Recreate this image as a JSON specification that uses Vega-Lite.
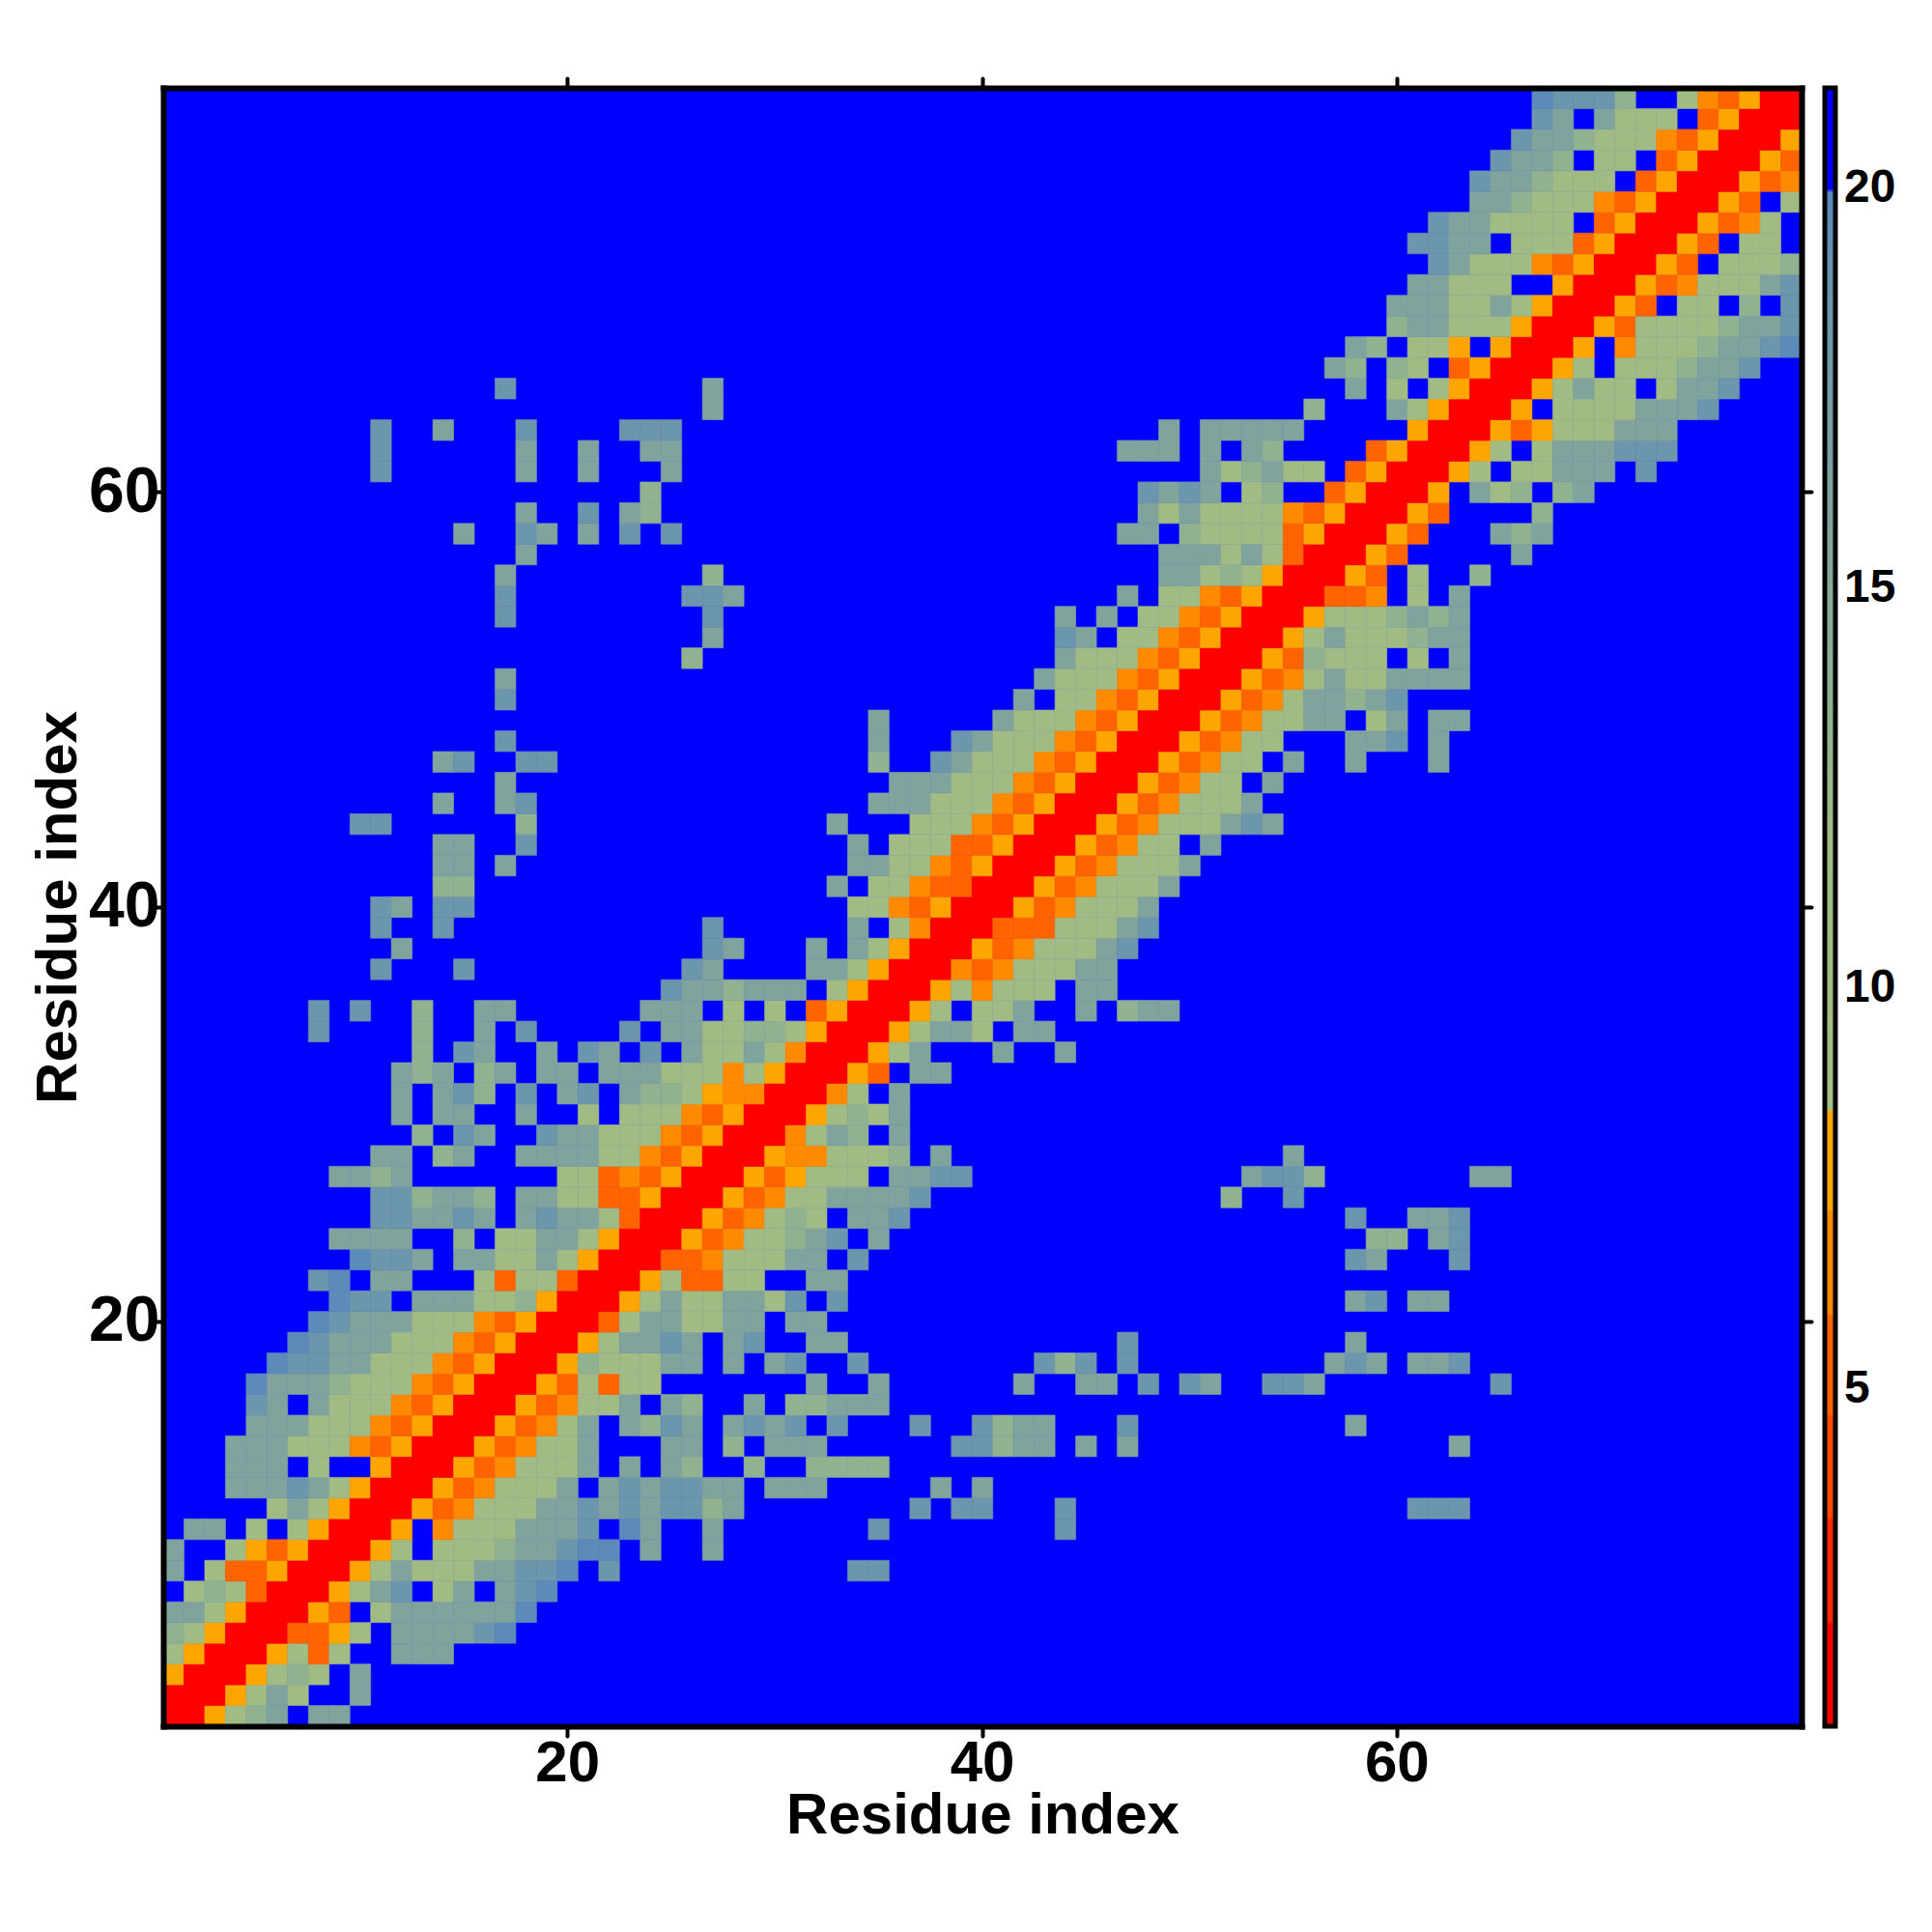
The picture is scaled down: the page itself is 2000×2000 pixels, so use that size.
{"$schema":"https://vega.github.io/schema/vega-lite/v6.json","width":1696,"height":1696,"autosize":"none","padding":{"left":169,"top":91,"right":135,"bottom":213},"background":"white","view":{"fill":"#0000ff","stroke":null},
"config":{"font":"Liberation Sans"},
"datasets":{"cells":[
{"i":1,"j":1,"d":1.5},{"i":2,"j":1,"d":1.5},{"i":3,"j":1,"d":7.9},{"i":4,"j":1,"d":11},{"i":5,"j":1,"d":13.5},{"i":6,"j":1,"d":16},{"i":8,"j":1,"d":16},{"i":9,"j":1,"d":16},
{"i":2,"j":2,"d":1.5},{"i":3,"j":2,"d":1.5},{"i":4,"j":2,"d":7.9},{"i":5,"j":2,"d":11},{"i":6,"j":2,"d":16},{"i":7,"j":2,"d":11},{"i":10,"j":2,"d":16},
{"i":3,"j":3,"d":1.5},{"i":4,"j":3,"d":1.5},{"i":5,"j":3,"d":7.9},{"i":6,"j":3,"d":11},{"i":7,"j":3,"d":13.5},{"i":8,"j":3,"d":11},{"i":10,"j":3,"d":16},
{"i":4,"j":4,"d":1.5},{"i":5,"j":4,"d":1.5},{"i":6,"j":4,"d":7.9},{"i":7,"j":4,"d":11},{"i":8,"j":4,"d":5.3},{"i":9,"j":4,"d":11},{"i":12,"j":4,"d":16},{"i":13,"j":4,"d":16},{"i":14,"j":4,"d":16},
{"i":5,"j":5,"d":1.5},{"i":6,"j":5,"d":1.5},{"i":7,"j":5,"d":5.3},{"i":8,"j":5,"d":5.3},{"i":9,"j":5,"d":7.9},{"i":10,"j":5,"d":11},{"i":12,"j":5,"d":16},{"i":13,"j":5,"d":16},{"i":14,"j":5,"d":16},{"i":15,"j":5,"d":16},{"i":16,"j":5,"d":18.5},{"i":17,"j":5,"d":19.7},
{"i":6,"j":6,"d":1.5},{"i":7,"j":6,"d":1.5},{"i":8,"j":6,"d":7.9},{"i":9,"j":6,"d":5.3},{"i":11,"j":6,"d":11},{"i":12,"j":6,"d":16},{"i":13,"j":6,"d":16},{"i":14,"j":6,"d":16},{"i":15,"j":6,"d":16},{"i":16,"j":6,"d":16},{"i":17,"j":6,"d":16},{"i":18,"j":6,"d":19.7},
{"i":7,"j":7,"d":1.5},{"i":8,"j":7,"d":1.5},{"i":9,"j":7,"d":7.9},{"i":10,"j":7,"d":11},{"i":11,"j":7,"d":16},{"i":12,"j":7,"d":18.5},{"i":14,"j":7,"d":11},{"i":15,"j":7,"d":16},{"i":17,"j":7,"d":16},{"i":18,"j":7,"d":18.5},{"i":19,"j":7,"d":19.7},
{"i":8,"j":8,"d":1.5},{"i":9,"j":8,"d":1.5},{"i":10,"j":8,"d":7.9},{"i":11,"j":8,"d":11},{"i":12,"j":8,"d":16},{"i":13,"j":8,"d":11},{"i":14,"j":8,"d":11},{"i":15,"j":8,"d":11},{"i":16,"j":8,"d":16},{"i":17,"j":8,"d":16},{"i":18,"j":8,"d":18.5},{"i":19,"j":8,"d":18.5},{"i":20,"j":8,"d":19.7},{"i":22,"j":8,"d":18.5},{"i":34,"j":8,"d":18.5},{"i":35,"j":8,"d":18.5},
{"i":9,"j":9,"d":1.5},{"i":10,"j":9,"d":1.5},{"i":11,"j":9,"d":7.9},{"i":12,"j":9,"d":11},{"i":14,"j":9,"d":11},{"i":15,"j":9,"d":11},{"i":16,"j":9,"d":11},{"i":17,"j":9,"d":13.5},{"i":18,"j":9,"d":16},{"i":19,"j":9,"d":16},{"i":20,"j":9,"d":18.5},{"i":21,"j":9,"d":19.7},{"i":22,"j":9,"d":19.7},{"i":24,"j":9,"d":16},{"i":27,"j":9,"d":16},
{"i":10,"j":10,"d":1.5},{"i":11,"j":10,"d":1.5},{"i":12,"j":10,"d":7.9},{"i":14,"j":10,"d":6.6},{"i":15,"j":10,"d":11},{"i":16,"j":10,"d":11},{"i":17,"j":10,"d":11},{"i":18,"j":10,"d":16},{"i":19,"j":10,"d":16},{"i":20,"j":10,"d":16},{"i":21,"j":10,"d":18.5},{"i":23,"j":10,"d":19.7},{"i":24,"j":10,"d":16},{"i":27,"j":10,"d":16},{"i":35,"j":10,"d":18.5},{"i":44,"j":10,"d":18.5},
{"i":11,"j":11,"d":1.5},{"i":12,"j":11,"d":1.5},{"i":13,"j":11,"d":7.9},{"i":14,"j":11,"d":5.3},{"i":15,"j":11,"d":6.6},{"i":16,"j":11,"d":11},{"i":17,"j":11,"d":11},{"i":18,"j":11,"d":11},{"i":19,"j":11,"d":16},{"i":20,"j":11,"d":16},{"i":21,"j":11,"d":18.5},{"i":22,"j":11,"d":16},{"i":23,"j":11,"d":18.5},{"i":24,"j":11,"d":16},{"i":25,"j":11,"d":18.5},{"i":26,"j":11,"d":18.5},{"i":27,"j":11,"d":13.5},{"i":28,"j":11,"d":16},{"i":37,"j":11,"d":18.5},{"i":39,"j":11,"d":18.5},{"i":40,"j":11,"d":18.5},{"i":44,"j":11,"d":18.5},{"i":61,"j":11,"d":18.5},{"i":62,"j":11,"d":18.5},{"i":63,"j":11,"d":18.5},
{"i":12,"j":12,"d":1.5},{"i":13,"j":12,"d":1.5},{"i":14,"j":12,"d":7.9},{"i":15,"j":12,"d":5.3},{"i":16,"j":12,"d":6.6},{"i":17,"j":12,"d":11},{"i":18,"j":12,"d":11},{"i":19,"j":12,"d":11},{"i":20,"j":12,"d":16},{"i":22,"j":12,"d":16},{"i":23,"j":12,"d":18.5},{"i":24,"j":12,"d":16},{"i":25,"j":12,"d":18.5},{"i":26,"j":12,"d":18.5},{"i":27,"j":12,"d":16},{"i":28,"j":12,"d":16},{"i":30,"j":12,"d":16},{"i":31,"j":12,"d":16},{"i":32,"j":12,"d":16},{"i":38,"j":12,"d":16},{"i":40,"j":12,"d":16},
{"i":13,"j":13,"d":1.5},{"i":14,"j":13,"d":1.5},{"i":15,"j":13,"d":7.9},{"i":16,"j":13,"d":5.3},{"i":17,"j":13,"d":6.6},{"i":18,"j":13,"d":11},{"i":19,"j":13,"d":11},{"i":20,"j":13,"d":11},{"i":21,"j":13,"d":16},{"i":23,"j":13,"d":16},{"i":25,"j":13,"d":16},{"i":26,"j":13,"d":13.5},{"i":29,"j":13,"d":13.5},{"i":32,"j":13,"d":13.5},{"i":33,"j":13,"d":13.5},{"i":34,"j":13,"d":13.5},{"i":35,"j":13,"d":13.5},
{"i":14,"j":14,"d":1.5},{"i":15,"j":14,"d":1.5},{"i":16,"j":14,"d":7.9},{"i":17,"j":14,"d":5.3},{"i":18,"j":14,"d":6.6},{"i":19,"j":14,"d":11},{"i":20,"j":14,"d":11},{"i":21,"j":14,"d":16},{"i":25,"j":14,"d":16},{"i":26,"j":14,"d":16},{"i":28,"j":14,"d":13.5},{"i":30,"j":14,"d":16},{"i":31,"j":14,"d":16},{"i":32,"j":14,"d":16},{"i":39,"j":14,"d":18.5},{"i":40,"j":14,"d":18.5},{"i":41,"j":14,"d":13.5},{"i":42,"j":14,"d":16},{"i":43,"j":14,"d":16},{"i":45,"j":14,"d":16},{"i":47,"j":14,"d":16},{"i":63,"j":14,"d":16},
{"i":15,"j":15,"d":1.5},{"i":16,"j":15,"d":1.5},{"i":17,"j":15,"d":7.9},{"i":18,"j":15,"d":5.3},{"i":19,"j":15,"d":6.6},{"i":20,"j":15,"d":11},{"i":21,"j":15,"d":16},{"i":23,"j":15,"d":16},{"i":24,"j":15,"d":13.5},{"i":25,"j":15,"d":18.5},{"i":26,"j":15,"d":16},{"i":28,"j":15,"d":16},{"i":29,"j":15,"d":18.5},{"i":30,"j":15,"d":16},{"i":31,"j":15,"d":18.5},{"i":33,"j":15,"d":18.5},{"i":37,"j":15,"d":18.5},{"i":40,"j":15,"d":18.5},{"i":41,"j":15,"d":13.5},{"i":42,"j":15,"d":16},{"i":43,"j":15,"d":16},{"i":47,"j":15,"d":18.5},{"i":58,"j":15,"d":16},
{"i":16,"j":16,"d":1.5},{"i":17,"j":16,"d":1.5},{"i":18,"j":16,"d":7.9},{"i":19,"j":16,"d":5.3},{"i":20,"j":16,"d":6.6},{"i":21,"j":16,"d":11},{"i":22,"j":16,"d":11},{"i":23,"j":16,"d":16},{"i":25,"j":16,"d":16},{"i":26,"j":16,"d":13.5},{"i":29,"j":16,"d":16},{"i":31,"j":16,"d":13.5},{"i":32,"j":16,"d":13.5},{"i":33,"j":16,"d":16},{"i":34,"j":16,"d":16},{"i":35,"j":16,"d":16},
{"i":17,"j":17,"d":1.5},{"i":18,"j":17,"d":1.5},{"i":19,"j":17,"d":7.9},{"i":20,"j":17,"d":5.3},{"i":21,"j":17,"d":11},{"i":22,"j":17,"d":5.3},{"i":23,"j":17,"d":11},{"i":24,"j":17,"d":11},{"i":32,"j":17,"d":16},{"i":35,"j":17,"d":16},{"i":42,"j":17,"d":16},{"i":45,"j":17,"d":16},{"i":46,"j":17,"d":16},{"i":48,"j":17,"d":18.5},{"i":50,"j":17,"d":18.5},{"i":51,"j":17,"d":16},{"i":54,"j":17,"d":18.5},{"i":55,"j":17,"d":18.5},{"i":56,"j":17,"d":16},{"i":65,"j":17,"d":18.5},
{"i":18,"j":18,"d":1.5},{"i":19,"j":18,"d":1.5},{"i":20,"j":18,"d":7.9},{"i":21,"j":18,"d":13.5},{"i":22,"j":18,"d":11},{"i":23,"j":18,"d":11},{"i":24,"j":18,"d":11},{"i":25,"j":18,"d":16},{"i":26,"j":18,"d":16},{"i":28,"j":18,"d":16},{"i":30,"j":18,"d":16},{"i":31,"j":18,"d":18.5},{"i":34,"j":18,"d":18.5},{"i":43,"j":18,"d":18.5},{"i":44,"j":18,"d":13.5},{"i":45,"j":18,"d":18.5},{"i":47,"j":18,"d":18.5},{"i":57,"j":18,"d":16},{"i":58,"j":18,"d":18.5},{"i":59,"j":18,"d":16},{"i":61,"j":18,"d":16},{"i":62,"j":18,"d":16},{"i":63,"j":18,"d":18.5},
{"i":19,"j":19,"d":1.5},{"i":20,"j":19,"d":1.5},{"i":21,"j":19,"d":7.9},{"i":22,"j":19,"d":11},{"i":23,"j":19,"d":16},{"i":24,"j":19,"d":16},{"i":25,"j":19,"d":18.5},{"i":26,"j":19,"d":16},{"i":28,"j":19,"d":16},{"i":29,"j":19,"d":18.5},{"i":32,"j":19,"d":16},{"i":33,"j":19,"d":16},{"i":47,"j":19,"d":18.5},{"i":58,"j":19,"d":16},
{"i":20,"j":20,"d":1.5},{"i":21,"j":20,"d":1.5},{"i":22,"j":20,"d":5.3},{"i":23,"j":20,"d":11},{"i":24,"j":20,"d":16},{"i":25,"j":20,"d":16},{"i":26,"j":20,"d":11},{"i":27,"j":20,"d":11},{"i":28,"j":20,"d":16},{"i":29,"j":20,"d":16},{"i":31,"j":20,"d":16},{"i":32,"j":20,"d":16},
{"i":21,"j":21,"d":1.5},{"i":22,"j":21,"d":1.5},{"i":23,"j":21,"d":7.9},{"i":24,"j":21,"d":11},{"i":25,"j":21,"d":16},{"i":26,"j":21,"d":11},{"i":27,"j":21,"d":11},{"i":28,"j":21,"d":16},{"i":29,"j":21,"d":16},{"i":30,"j":21,"d":11},{"i":31,"j":21,"d":18.5},{"i":33,"j":21,"d":18.5},{"i":58,"j":21,"d":16},{"i":59,"j":21,"d":18.5},{"i":61,"j":21,"d":16},{"i":62,"j":21,"d":16},
{"i":22,"j":22,"d":1.5},{"i":23,"j":22,"d":1.5},{"i":24,"j":22,"d":7.9},{"i":25,"j":22,"d":11},{"i":26,"j":22,"d":5.3},{"i":27,"j":22,"d":5.3},{"i":28,"j":22,"d":11},{"i":29,"j":22,"d":11},{"i":32,"j":22,"d":16},{"i":33,"j":22,"d":16},
{"i":23,"j":23,"d":1.5},{"i":24,"j":23,"d":1.5},{"i":25,"j":23,"d":5.3},{"i":26,"j":23,"d":5.3},{"i":27,"j":23,"d":6.6},{"i":28,"j":23,"d":11},{"i":29,"j":23,"d":11},{"i":30,"j":23,"d":11},{"i":31,"j":23,"d":16},{"i":32,"j":23,"d":16},{"i":34,"j":23,"d":18.5},{"i":58,"j":23,"d":18.5},{"i":59,"j":23,"d":16},{"i":63,"j":23,"d":18.5},
{"i":24,"j":24,"d":1.5},{"i":25,"j":24,"d":1.5},{"i":26,"j":24,"d":7.9},{"i":27,"j":24,"d":5.3},{"i":28,"j":24,"d":6.6},{"i":29,"j":24,"d":11},{"i":30,"j":24,"d":11},{"i":31,"j":24,"d":13.5},{"i":32,"j":24,"d":16},{"i":33,"j":24,"d":18.5},{"i":35,"j":24,"d":16},{"i":59,"j":24,"d":13.5},{"i":60,"j":24,"d":13.5},{"i":62,"j":24,"d":16},{"i":63,"j":24,"d":18.5},
{"i":25,"j":25,"d":1.5},{"i":26,"j":25,"d":1.5},{"i":27,"j":25,"d":7.9},{"i":28,"j":25,"d":5.3},{"i":29,"j":25,"d":6.6},{"i":30,"j":25,"d":11},{"i":31,"j":25,"d":13.5},{"i":32,"j":25,"d":11},{"i":34,"j":25,"d":16},{"i":35,"j":25,"d":16},{"i":36,"j":25,"d":18.5},{"i":58,"j":25,"d":18.5},{"i":61,"j":25,"d":16},{"i":62,"j":25,"d":16},{"i":63,"j":25,"d":18.5},
{"i":26,"j":26,"d":1.5},{"i":27,"j":26,"d":1.5},{"i":28,"j":26,"d":7.9},{"i":29,"j":26,"d":5.3},{"i":30,"j":26,"d":6.6},{"i":31,"j":26,"d":11},{"i":32,"j":26,"d":11},{"i":33,"j":26,"d":16},{"i":34,"j":26,"d":16},{"i":35,"j":26,"d":16},{"i":36,"j":26,"d":16},{"i":37,"j":26,"d":18.5},{"i":52,"j":26,"d":13.5},{"i":55,"j":26,"d":18.5},
{"i":27,"j":27,"d":1.5},{"i":28,"j":27,"d":1.5},{"i":29,"j":27,"d":7.9},{"i":30,"j":27,"d":5.3},{"i":31,"j":27,"d":7.9},{"i":32,"j":27,"d":11},{"i":33,"j":27,"d":11},{"i":34,"j":27,"d":11},{"i":36,"j":27,"d":16},{"i":37,"j":27,"d":16},{"i":38,"j":27,"d":18.5},{"i":39,"j":27,"d":18.5},{"i":53,"j":27,"d":16},{"i":54,"j":27,"d":18.5},{"i":55,"j":27,"d":18.5},{"i":56,"j":27,"d":13.5},{"i":64,"j":27,"d":16},{"i":65,"j":27,"d":16},
{"i":28,"j":28,"d":1.5},{"i":29,"j":28,"d":1.5},{"i":30,"j":28,"d":7.9},{"i":31,"j":28,"d":6.6},{"i":32,"j":28,"d":6.6},{"i":33,"j":28,"d":11},{"i":34,"j":28,"d":11},{"i":35,"j":28,"d":11},{"i":36,"j":28,"d":13.5},{"i":38,"j":28,"d":16},{"i":55,"j":28,"d":16},
{"i":29,"j":29,"d":1.5},{"i":30,"j":29,"d":1.5},{"i":31,"j":29,"d":6.6},{"i":32,"j":29,"d":11},{"i":33,"j":29,"d":16},{"i":34,"j":29,"d":13.5},{"i":36,"j":29,"d":16},
{"i":30,"j":30,"d":1.5},{"i":31,"j":30,"d":1.5},{"i":32,"j":30,"d":7.9},{"i":33,"j":30,"d":11},{"i":34,"j":30,"d":13.5},{"i":35,"j":30,"d":11},{"i":36,"j":30,"d":16},
{"i":31,"j":31,"d":1.5},{"i":32,"j":31,"d":1.5},{"i":33,"j":31,"d":6.6},{"i":34,"j":31,"d":11},{"i":36,"j":31,"d":16},
{"i":32,"j":32,"d":1.5},{"i":33,"j":32,"d":1.5},{"i":34,"j":32,"d":7.9},{"i":35,"j":32,"d":5.3},{"i":37,"j":32,"d":16},{"i":38,"j":32,"d":16},
{"i":33,"j":33,"d":1.5},{"i":34,"j":33,"d":1.5},{"i":35,"j":33,"d":7.9},{"i":36,"j":33,"d":11},{"i":37,"j":33,"d":16},{"i":41,"j":33,"d":16},{"i":44,"j":33,"d":16},
{"i":34,"j":34,"d":1.5},{"i":35,"j":34,"d":1.5},{"i":36,"j":34,"d":7.9},{"i":37,"j":34,"d":11},{"i":38,"j":34,"d":16},{"i":39,"j":34,"d":16},{"i":40,"j":34,"d":11},{"i":42,"j":34,"d":16},{"i":43,"j":34,"d":16},
{"i":35,"j":35,"d":1.5},{"i":36,"j":35,"d":1.5},{"i":37,"j":35,"d":7.9},{"i":38,"j":35,"d":11},{"i":40,"j":35,"d":11},{"i":41,"j":35,"d":11},{"i":42,"j":35,"d":16},{"i":45,"j":35,"d":16},{"i":47,"j":35,"d":13.5},{"i":48,"j":35,"d":16},{"i":49,"j":35,"d":16},
{"i":36,"j":36,"d":1.5},{"i":37,"j":36,"d":1.5},{"i":38,"j":36,"d":7.9},{"i":39,"j":36,"d":11},{"i":40,"j":36,"d":6.6},{"i":41,"j":36,"d":11},{"i":42,"j":36,"d":11},{"i":43,"j":36,"d":11},{"i":45,"j":36,"d":16},{"i":46,"j":36,"d":16},
{"i":37,"j":37,"d":1.5},{"i":38,"j":37,"d":1.5},{"i":39,"j":37,"d":6.6},{"i":40,"j":37,"d":5.3},{"i":41,"j":37,"d":6.6},{"i":42,"j":37,"d":11},{"i":43,"j":37,"d":11},{"i":44,"j":37,"d":11},{"i":45,"j":37,"d":16},{"i":46,"j":37,"d":16},
{"i":38,"j":38,"d":1.5},{"i":39,"j":38,"d":1.5},{"i":40,"j":38,"d":7.9},{"i":41,"j":38,"d":5.3},{"i":42,"j":38,"d":6.6},{"i":43,"j":38,"d":11},{"i":44,"j":38,"d":11},{"i":45,"j":38,"d":11},{"i":46,"j":38,"d":16},{"i":47,"j":38,"d":18.5},
{"i":39,"j":39,"d":1.5},{"i":40,"j":39,"d":1.5},{"i":41,"j":39,"d":5.3},{"i":42,"j":39,"d":5.3},{"i":43,"j":39,"d":5.3},{"i":44,"j":39,"d":11},{"i":45,"j":39,"d":11},{"i":46,"j":39,"d":11},{"i":47,"j":39,"d":16},{"i":48,"j":39,"d":18.5},
{"i":40,"j":40,"d":1.5},{"i":41,"j":40,"d":1.5},{"i":42,"j":40,"d":7.9},{"i":43,"j":40,"d":5.3},{"i":44,"j":40,"d":6.6},{"i":45,"j":40,"d":11},{"i":46,"j":40,"d":11},{"i":47,"j":40,"d":11},{"i":48,"j":40,"d":16},
{"i":41,"j":41,"d":1.5},{"i":42,"j":41,"d":1.5},{"i":43,"j":41,"d":7.9},{"i":44,"j":41,"d":5.3},{"i":45,"j":41,"d":6.6},{"i":46,"j":41,"d":11},{"i":47,"j":41,"d":11},{"i":48,"j":41,"d":11},{"i":49,"j":41,"d":16},
{"i":42,"j":42,"d":1.5},{"i":43,"j":42,"d":1.5},{"i":44,"j":42,"d":7.9},{"i":45,"j":42,"d":5.3},{"i":46,"j":42,"d":6.6},{"i":47,"j":42,"d":11},{"i":48,"j":42,"d":11},{"i":49,"j":42,"d":11},{"i":50,"j":42,"d":16},
{"i":43,"j":43,"d":1.5},{"i":44,"j":43,"d":1.5},{"i":45,"j":43,"d":7.9},{"i":46,"j":43,"d":5.3},{"i":47,"j":43,"d":6.6},{"i":48,"j":43,"d":11},{"i":49,"j":43,"d":11},{"i":51,"j":43,"d":16},
{"i":44,"j":44,"d":1.5},{"i":45,"j":44,"d":1.5},{"i":46,"j":44,"d":7.9},{"i":47,"j":44,"d":5.3},{"i":48,"j":44,"d":6.6},{"i":49,"j":44,"d":11},{"i":50,"j":44,"d":11},{"i":51,"j":44,"d":11},{"i":52,"j":44,"d":16},{"i":53,"j":44,"d":18.5},{"i":54,"j":44,"d":16},
{"i":45,"j":45,"d":1.5},{"i":46,"j":45,"d":1.5},{"i":47,"j":45,"d":7.9},{"i":48,"j":45,"d":5.3},{"i":49,"j":45,"d":6.6},{"i":50,"j":45,"d":11},{"i":51,"j":45,"d":11},{"i":52,"j":45,"d":11},{"i":53,"j":45,"d":16},
{"i":46,"j":46,"d":1.5},{"i":47,"j":46,"d":1.5},{"i":48,"j":46,"d":7.9},{"i":49,"j":46,"d":5.3},{"i":50,"j":46,"d":6.6},{"i":51,"j":46,"d":11},{"i":52,"j":46,"d":11},{"i":54,"j":46,"d":16},
{"i":47,"j":47,"d":1.5},{"i":48,"j":47,"d":1.5},{"i":49,"j":47,"d":7.9},{"i":50,"j":47,"d":5.3},{"i":51,"j":47,"d":6.6},{"i":52,"j":47,"d":11},{"i":53,"j":47,"d":11},{"i":55,"j":47,"d":16},{"i":58,"j":47,"d":16},{"i":62,"j":47,"d":16},
{"i":48,"j":48,"d":1.5},{"i":49,"j":48,"d":1.5},{"i":50,"j":48,"d":7.9},{"i":51,"j":48,"d":5.3},{"i":52,"j":48,"d":6.6},{"i":53,"j":48,"d":11},{"i":54,"j":48,"d":11},{"i":58,"j":48,"d":16},{"i":59,"j":48,"d":16},{"i":60,"j":48,"d":18.5},{"i":62,"j":48,"d":16},
{"i":49,"j":49,"d":1.5},{"i":50,"j":49,"d":1.5},{"i":51,"j":49,"d":7.9},{"i":52,"j":49,"d":5.3},{"i":53,"j":49,"d":6.6},{"i":54,"j":49,"d":11},{"i":55,"j":49,"d":11},{"i":56,"j":49,"d":16},{"i":57,"j":49,"d":16},{"i":59,"j":49,"d":11},{"i":60,"j":49,"d":16},{"i":62,"j":49,"d":16},{"i":63,"j":49,"d":16},
{"i":50,"j":50,"d":1.5},{"i":51,"j":50,"d":1.5},{"i":52,"j":50,"d":7.9},{"i":53,"j":50,"d":5.3},{"i":54,"j":50,"d":6.6},{"i":55,"j":50,"d":11},{"i":56,"j":50,"d":16},{"i":57,"j":50,"d":16},{"i":58,"j":50,"d":13.5},{"i":59,"j":50,"d":16},{"i":60,"j":50,"d":18.5},
{"i":51,"j":51,"d":1.5},{"i":52,"j":51,"d":1.5},{"i":53,"j":51,"d":7.9},{"i":54,"j":51,"d":5.3},{"i":55,"j":51,"d":6.6},{"i":56,"j":51,"d":11},{"i":57,"j":51,"d":16},{"i":58,"j":51,"d":11},{"i":59,"j":51,"d":11},{"i":60,"j":51,"d":16},{"i":61,"j":51,"d":16},{"i":62,"j":51,"d":16},{"i":63,"j":51,"d":16},
{"i":52,"j":52,"d":1.5},{"i":53,"j":52,"d":1.5},{"i":54,"j":52,"d":7.9},{"i":55,"j":52,"d":5.3},{"i":56,"j":52,"d":13.5},{"i":57,"j":52,"d":11},{"i":58,"j":52,"d":11},{"i":59,"j":52,"d":11},{"i":61,"j":52,"d":11},{"i":63,"j":52,"d":16},
{"i":53,"j":53,"d":1.5},{"i":54,"j":53,"d":1.5},{"i":55,"j":53,"d":7.9},{"i":56,"j":53,"d":11},{"i":57,"j":53,"d":16},{"i":58,"j":53,"d":11},{"i":59,"j":53,"d":11},{"i":60,"j":53,"d":11},{"i":61,"j":53,"d":13.5},{"i":62,"j":53,"d":16},{"i":63,"j":53,"d":16},
{"i":54,"j":54,"d":1.5},{"i":55,"j":54,"d":1.5},{"i":56,"j":54,"d":7.9},{"i":57,"j":54,"d":11},{"i":58,"j":54,"d":11},{"i":59,"j":54,"d":11},{"i":60,"j":54,"d":13.5},{"i":61,"j":54,"d":16},{"i":62,"j":54,"d":13.5},{"i":63,"j":54,"d":16},
{"i":55,"j":55,"d":1.5},{"i":56,"j":55,"d":1.5},{"i":57,"j":55,"d":5.3},{"i":58,"j":55,"d":5.3},{"i":59,"j":55,"d":6.6},{"i":61,"j":55,"d":11},{"i":63,"j":55,"d":16},
{"i":56,"j":56,"d":1.5},{"i":57,"j":56,"d":1.5},{"i":58,"j":56,"d":7.9},{"i":59,"j":56,"d":5.3},{"i":61,"j":56,"d":11},{"i":64,"j":56,"d":13.5},
{"i":57,"j":57,"d":1.5},{"i":58,"j":57,"d":1.5},{"i":59,"j":57,"d":7.9},{"i":60,"j":57,"d":5.3},{"i":66,"j":57,"d":16},
{"i":58,"j":58,"d":1.5},{"i":59,"j":58,"d":1.5},{"i":60,"j":58,"d":7.9},{"i":61,"j":58,"d":5.3},{"i":65,"j":58,"d":16},{"i":66,"j":58,"d":13.5},{"i":67,"j":58,"d":16},
{"i":59,"j":59,"d":1.5},{"i":60,"j":59,"d":1.5},{"i":61,"j":59,"d":7.9},{"i":62,"j":59,"d":5.3},{"i":67,"j":59,"d":13.5},
{"i":60,"j":60,"d":1.5},{"i":61,"j":60,"d":1.5},{"i":62,"j":60,"d":7.9},{"i":64,"j":60,"d":16},{"i":65,"j":60,"d":11},{"i":66,"j":60,"d":13.5},{"i":68,"j":60,"d":13.5},{"i":69,"j":60,"d":16},
{"i":61,"j":61,"d":1.5},{"i":62,"j":61,"d":1.5},{"i":63,"j":61,"d":7.9},{"i":64,"j":61,"d":11},{"i":66,"j":61,"d":11},{"i":67,"j":61,"d":11},{"i":68,"j":61,"d":16},{"i":69,"j":61,"d":16},{"i":70,"j":61,"d":16},{"i":72,"j":61,"d":18.5},
{"i":62,"j":62,"d":1.5},{"i":63,"j":62,"d":1.5},{"i":64,"j":62,"d":7.9},{"i":65,"j":62,"d":11},{"i":67,"j":62,"d":11},{"i":68,"j":62,"d":16},{"i":69,"j":62,"d":16},{"i":70,"j":62,"d":16},{"i":71,"j":62,"d":18.5},{"i":72,"j":62,"d":18.5},{"i":73,"j":62,"d":18.5},
{"i":63,"j":63,"d":1.5},{"i":64,"j":63,"d":1.5},{"i":65,"j":63,"d":7.9},{"i":66,"j":63,"d":5.3},{"i":67,"j":63,"d":7.9},{"i":68,"j":63,"d":11},{"i":69,"j":63,"d":11},{"i":70,"j":63,"d":11},{"i":71,"j":63,"d":16},{"i":72,"j":63,"d":16},{"i":73,"j":63,"d":16},
{"i":64,"j":64,"d":1.5},{"i":65,"j":64,"d":1.5},{"i":66,"j":64,"d":7.9},{"i":68,"j":64,"d":11},{"i":69,"j":64,"d":11},{"i":70,"j":64,"d":11},{"i":71,"j":64,"d":11},{"i":72,"j":64,"d":16},{"i":73,"j":64,"d":16},{"i":74,"j":64,"d":16},{"i":75,"j":64,"d":18.5},
{"i":65,"j":65,"d":1.5},{"i":66,"j":65,"d":1.5},{"i":67,"j":65,"d":7.9},{"i":68,"j":65,"d":11},{"i":69,"j":65,"d":16},{"i":70,"j":65,"d":11},{"i":71,"j":65,"d":11},{"i":73,"j":65,"d":11},{"i":74,"j":65,"d":16},{"i":75,"j":65,"d":16},{"i":76,"j":65,"d":18.5},
{"i":66,"j":66,"d":1.5},{"i":67,"j":66,"d":1.5},{"i":68,"j":66,"d":7.9},{"i":69,"j":66,"d":11},{"i":71,"j":66,"d":11},{"i":72,"j":66,"d":11},{"i":73,"j":66,"d":11},{"i":74,"j":66,"d":13.5},{"i":75,"j":66,"d":16},{"i":76,"j":66,"d":16},{"i":77,"j":66,"d":18.5},
{"i":67,"j":67,"d":1.5},{"i":68,"j":67,"d":1.5},{"i":69,"j":67,"d":7.9},{"i":71,"j":67,"d":6.6},{"i":72,"j":67,"d":11},{"i":73,"j":67,"d":11},{"i":74,"j":67,"d":11},{"i":75,"j":67,"d":13.5},{"i":76,"j":67,"d":16},{"i":77,"j":67,"d":16},{"i":78,"j":67,"d":18.5},{"i":79,"j":67,"d":19.7},
{"i":68,"j":68,"d":1.5},{"i":69,"j":68,"d":1.5},{"i":70,"j":68,"d":7.9},{"i":71,"j":68,"d":5.3},{"i":72,"j":68,"d":11},{"i":73,"j":68,"d":11},{"i":74,"j":68,"d":11},{"i":75,"j":68,"d":11},{"i":76,"j":68,"d":13.5},{"i":77,"j":68,"d":16},{"i":78,"j":68,"d":16},{"i":79,"j":68,"d":18.5},
{"i":69,"j":69,"d":1.5},{"i":70,"j":69,"d":1.5},{"i":71,"j":69,"d":7.9},{"i":72,"j":69,"d":5.3},{"i":74,"j":69,"d":11},{"i":75,"j":69,"d":11},{"i":77,"j":69,"d":13.5},{"i":79,"j":69,"d":18.5},
{"i":70,"j":70,"d":1.5},{"i":71,"j":70,"d":1.5},{"i":72,"j":70,"d":7.9},{"i":73,"j":70,"d":5.3},{"i":74,"j":70,"d":6.6},{"i":75,"j":70,"d":11},{"i":76,"j":70,"d":11},{"i":77,"j":70,"d":11},{"i":78,"j":70,"d":16},{"i":79,"j":70,"d":18.5},
{"i":71,"j":71,"d":1.5},{"i":72,"j":71,"d":1.5},{"i":73,"j":71,"d":7.9},{"i":74,"j":71,"d":5.3},{"i":76,"j":71,"d":11},{"i":77,"j":71,"d":11},{"i":78,"j":71,"d":11},{"i":79,"j":71,"d":13.5},
{"i":72,"j":72,"d":1.5},{"i":73,"j":72,"d":1.5},{"i":74,"j":72,"d":7.9},{"i":75,"j":72,"d":5.3},{"i":77,"j":72,"d":11},{"i":78,"j":72,"d":11},
{"i":73,"j":73,"d":1.5},{"i":74,"j":73,"d":1.5},{"i":75,"j":73,"d":7.9},{"i":76,"j":73,"d":5.3},{"i":77,"j":73,"d":6.6},{"i":78,"j":73,"d":11},
{"i":74,"j":74,"d":1.5},{"i":75,"j":74,"d":1.5},{"i":76,"j":74,"d":7.9},{"i":77,"j":74,"d":5.3},{"i":79,"j":74,"d":11},
{"i":75,"j":75,"d":1.5},{"i":76,"j":75,"d":1.5},{"i":77,"j":75,"d":7.9},{"i":78,"j":75,"d":5.3},{"i":79,"j":75,"d":6.6},
{"i":76,"j":76,"d":1.5},{"i":77,"j":76,"d":1.5},{"i":78,"j":76,"d":7.9},{"i":79,"j":76,"d":5.3},
{"i":77,"j":77,"d":1.5},{"i":78,"j":77,"d":1.5},{"i":79,"j":77,"d":7.9},
{"i":78,"j":78,"d":1.5},{"i":79,"j":78,"d":1.5},
{"i":79,"j":79,"d":1.5}
]},
"data":{"name":"cells"},
"layer":[
{"mark":{"type":"rect","strokeWidth":0.6},
"encoding":{
"x":{"field":"i","type":"ordinal","title":"Residue index","scale":{"domain":[1,2,3,4,5,6,7,8,9,10,11,12,13,14,15,16,17,18,19,20,21,22,23,24,25,26,27,28,29,30,31,32,33,34,35,36,37,38,39,40,41,42,43,44,45,46,47,48,49,50,51,52,53,54,55,56,57,58,59,60,61,62,63,64,65,66,67,68,69,70,71,72,73,74,75,76,77,78,79],"paddingInner":0,"paddingOuter":0,"round":false},"axis":{"orient":"bottom","values":[20,40,60],"labelAngle":0,"labelFontSize":60,"labelFontWeight":"bold","labelColor":"black","labelPadding":-1,"tickSize":10,"tickWidth":4,"tickColor":"black","tickCap":"round","domainColor":"black","domainWidth":6,"domainCap":"square","zindex":1,"grid":false,"titleFontSize":60,"titleFontWeight":"bold","titleColor":"black","titleX":848,"titleY":110,"titleBaseline":"alphabetic"}},
"y":{"field":"j","type":"ordinal","title":"Residue index","scale":{"domain":[79,78,77,76,75,74,73,72,71,70,69,68,67,66,65,64,63,62,61,60,59,58,57,56,55,54,53,52,51,50,49,48,47,46,45,44,43,42,41,40,39,38,37,36,35,34,33,32,31,30,29,28,27,26,25,24,23,22,21,20,19,18,17,16,15,14,13,12,11,10,9,8,7,6,5,4,3,2,1],"paddingInner":0,"paddingOuter":0,"round":false},"axis":{"orient":"left","values":[20,40,60],"labelFontSize":66,"labelFontWeight":"bold","labelColor":"black","labelPadding":-6,"tickSize":10,"tickWidth":4,"tickColor":"black","tickCap":"round","domainColor":"black","domainWidth":6,"domainCap":"square","zindex":1,"grid":false,"titleFontSize":60,"titleFontWeight":"bold","titleColor":"black","titleX":-91,"titleY":848,"titleBaseline":"alphabetic"}},
"color":{"field":"d","type":"quantitative","title":null,"scale":{"type":"linear","clamp":true,"domain":[0.78,2.07,2.071,3.36,3.361,4.65,4.651,5.93,5.931,7.22,7.221,8.46,8.461,12,15,17,19,19.97,19.98,21.26],"range":["#ff0000","#ff0000","#ff2a00","#ff2a00","#ff4800","#ff4800","#ff6400","#ff6400","#ff8a00","#ff8a00","#ffa500","#ffa500","#a4bf85","#a0ba85","#8aa898","#7a9ea2","#6a92ae","#5a88bd","#0000ff","#0000ff"]},
"legend":{"orient":"none","legendX":1720,"legendY":0,"direction":"vertical","type":"gradient","values":[5,10,15,20],"gradientLength":1696,"gradientThickness":11,"gradientStrokeColor":"black","gradientStrokeWidth":5,"labelFontSize":48,"labelFontWeight":"bold","labelColor":"black","labelOffset":9,"tickCount":4,"encode":{"gradient":{"update":{"fill":{"gradient":"color","start":[0,1],"stop":[0,0],"count":500}}}}}},
"stroke":{"field":"d","type":"quantitative","legend":null,"scale":{"type":"linear","clamp":true,"domain":[0.7,2.07,2.071,3.36,3.361,4.65,4.651,5.93,5.931,7.22,7.221,8.46,8.461,12,15,17,19,19.97,19.98,21.3],"range":["#ff0000","#ff0000","#ff2a00","#ff2a00","#ff4800","#ff4800","#ff6400","#ff6400","#ff8a00","#ff8a00","#ffa500","#ffa500","#a4bf85","#a0ba85","#8aa898","#7a9ea2","#6a92ae","#5a88bd","#0000ff","#0000ff"]}}
}},
{"mark":{"type":"rect","strokeWidth":0.6},
"encoding":{
"x":{"field":"j","type":"ordinal","title":null,"axis":{"orient":"top","values":[20,40,60],"labels":false,"tickSize":10,"tickWidth":4,"tickColor":"black","tickCap":"round","domainColor":"black","domainWidth":6,"domainCap":"square","zindex":1,"grid":false}},
"y":{"field":"i","type":"ordinal","title":null,"axis":{"orient":"right","values":[20,40,60],"labels":false,"tickSize":10,"tickWidth":4,"tickColor":"black","tickCap":"round","domainColor":"black","domainWidth":6,"domainCap":"square","zindex":1,"grid":false}},
"color":{"field":"d","type":"quantitative","title":null},
"stroke":{"field":"d","type":"quantitative","legend":null}
}}
],
"resolve":{"axis":{"x":"independent","y":"independent"}}
}
